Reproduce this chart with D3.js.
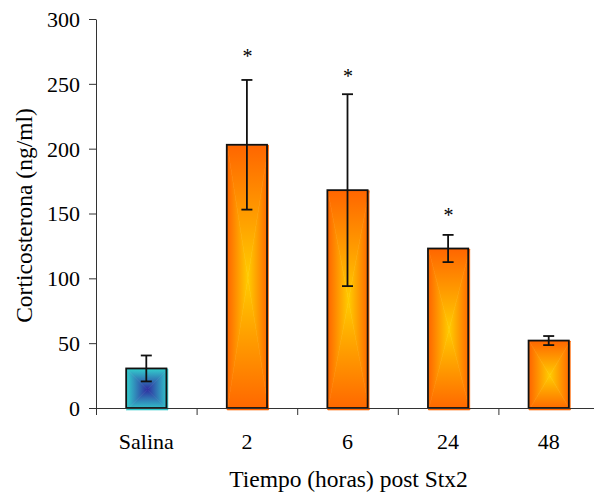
<!DOCTYPE html>
<html>
<head>
<meta charset="utf-8">
<script src="https://cdn.jsdelivr.net/npm/d3@7"></script>
<style>
  html, body { margin: 0; padding: 0; background: #fff; }
  svg { display: block; }
  text { font-family: "Liberation Serif", "Times New Roman", serif; fill: #000; }
</style>
</head>
<body>
<svg id="chart" width="594" height="496"></svg>
<script>
// Corticosterone levels after Stx2 injection
const categories = ["Salina", "2", "6", "24", "48"];
const means = [30.5, 203, 168, 123, 52];
const errors = [10, 50, 74, 10.5, 3.5];
// level where the significance asterisk sits (null = none)
const starLevels = [null, 274.5, 259, 151.3, null];
const yTicks = [0, 50, 100, 150, 200, 250, 300];
// edge / centre colours of the rectangular gradient per bar
const edgeColors = ["#33cccc", "#ff6600", "#ff6600", "#ff6600", "#ff6600"];
const centerColors = ["#2e2ea0", "#ffcc00", "#ffcc00", "#ffcc00", "#ffcc00"];

const svg = d3.select("#chart");
const plotLeft = 96, plotRight = 599, plotTop = 19, plotBottom = 408;

const x = d3.scaleBand().domain(categories).range([plotLeft, plotRight])
  .paddingInner(0.6).paddingOuter(0.3);
const xEdges = d3.scaleLinear().domain([0, categories.length]).range([plotLeft, plotRight]);
const y = d3.scaleLinear().domain([0, 300]).range([plotBottom, plotTop]);

// gradients: each bar is split into four triangles, each shaded edge -> centre
const defs = svg.append("defs");
const dirs = {
  top:    {x1: 0, y1: 0, x2: 0, y2: 1},
  bottom: {x1: 0, y1: 1, x2: 0, y2: 0},
  left:   {x1: 0, y1: 0, x2: 1, y2: 0},
  right:  {x1: 1, y1: 0, x2: 0, y2: 0}
};
categories.forEach((c, i) => {
  Object.entries(dirs).forEach(([k, d]) => {
    const g = defs.append("linearGradient").attr("id", `g${i}${k}`)
      .attr("x1", d.x1).attr("y1", d.y1).attr("x2", d.x2).attr("y2", d.y2);
    g.append("stop").attr("offset", 0).attr("stop-color", edgeColors[i]);
    g.append("stop").attr("offset", 1).attr("stop-color", centerColors[i]);
  });
});

// y axis
const yAxis = d3.axisLeft(y).tickValues(yTicks).tickSize(7).tickSizeOuter(0).tickPadding(9);
const gy = svg.append("g").attr("transform", `translate(${plotLeft},0)`).call(yAxis);
gy.select(".domain").attr("stroke", "#333");
gy.selectAll(".tick line").attr("stroke", "#333");
gy.selectAll(".tick text").attr("font-size", 22).attr("dy", "0.34em");

// bars
const bars = svg.append("g");
categories.forEach((c, i) => {
  const x0 = x(c), w = x.bandwidth();
  const y0 = y(means[i]), y1 = y(0);
  // fill sits slightly offset from the outline
  const fx0 = x0 + 0.5, fx1 = x0 + w + 1.5, fy0 = y0 + 0.5, fy1 = y1 + 2;
  const cx = (fx0 + fx1) / 2, cy = (fy0 + fy1) / 2;
  const tris = {
    top:    [[fx0, fy0], [fx1, fy0], [cx, cy]],
    bottom: [[fx0, fy1], [fx1, fy1], [cx, cy]],
    left:   [[fx0, fy0], [fx0, fy1], [cx, cy]],
    right:  [[fx1, fy0], [fx1, fy1], [cx, cy]]
  };
  Object.entries(tris).forEach(([k, pts]) => {
    bars.append("path")
      .attr("d", d3.line()(pts) + "Z")
      .attr("fill", `url(#g${i}${k})`)
      .attr("stroke", `url(#g${i}${k})`)
      .attr("stroke-width", 0.6);
  });
  bars.append("rect")
    .attr("x", x0).attr("y", y0).attr("width", w).attr("height", y1 - y0)
    .attr("fill", "none").attr("stroke", "#111").attr("stroke-width", 1.8);
});

// x axis line and category boundary ticks
const xAxisEdges = d3.axisBottom(xEdges).tickValues(d3.range(categories.length + 1))
  .tickSize(7).tickSizeOuter(0).tickFormat("");
const gxe = svg.append("g").attr("transform", `translate(0,${plotBottom})`).call(xAxisEdges);
gxe.select(".domain").attr("stroke", "#333");
gxe.selectAll(".tick line").attr("stroke", "#333");

// category labels
const xAxis = d3.axisBottom(x).tickSize(0).tickPadding(0);
const gx = svg.append("g").attr("transform", `translate(0,${plotBottom})`).call(xAxis);
gx.select(".domain").remove();
gx.selectAll(".tick text").attr("font-size", 22).attr("dy", 0).attr("y", 41);

// error bars
const eb = svg.append("g").attr("stroke", "#111").attr("stroke-width", 1.8);
categories.forEach((c, i) => {
  const cx = x(c) + x.bandwidth() / 2;
  const hi = y(means[i] + errors[i]), lo = y(means[i] - errors[i]);
  eb.append("line").attr("x1", cx).attr("x2", cx).attr("y1", hi).attr("y2", lo);
  eb.append("line").attr("x1", cx - 5.5).attr("x2", cx + 5.5).attr("y1", hi).attr("y2", hi);
  eb.append("line").attr("x1", cx - 5.5).attr("x2", cx + 5.5).attr("y1", lo).attr("y2", lo);
});

// significance markers
categories.forEach((c, i) => {
  if (starLevels[i] == null) return;
  svg.append("text")
    .attr("x", x(c) + x.bandwidth() / 2 + 0.5)
    .attr("y", y(starLevels[i]) + 10.5)
    .attr("text-anchor", "middle").attr("font-size", 20)
    .text("*");
});

// axis titles
svg.append("text")
  .attr("transform", `translate(32,${(plotTop + plotBottom) / 2 + 2}) rotate(-90)`)
  .attr("text-anchor", "middle").attr("font-size", 23.5)
  .text("Corticosterona (ng/ml)");
svg.append("text")
  .attr("x", (plotLeft + plotRight) / 2 + 1).attr("y", 487)
  .attr("text-anchor", "middle").attr("font-size", 23.5)
  .text("Tiempo (horas) post Stx2");
</script>
</body>
</html>
